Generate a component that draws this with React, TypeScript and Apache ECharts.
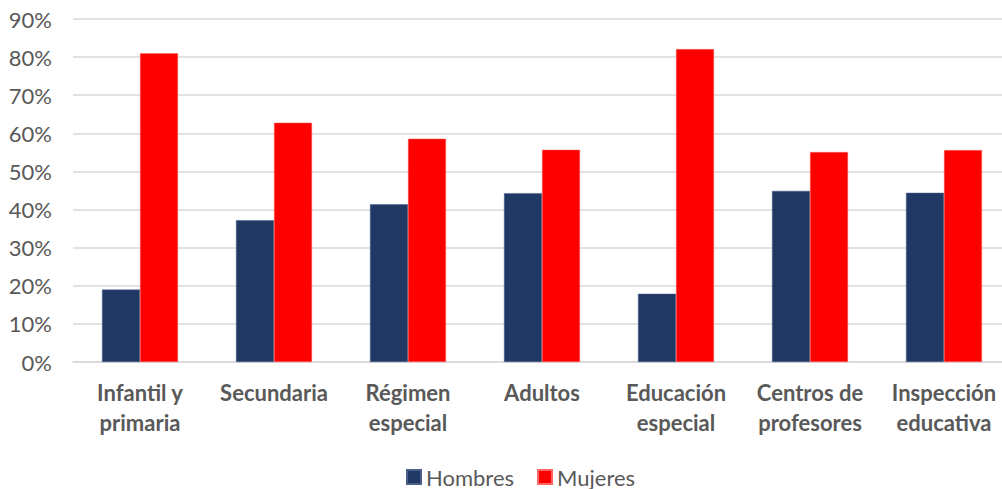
import React, { useEffect, useRef } from "react";
import * as echarts from "echarts";

const categories = [
  "Infantil y\nprimaria",
  "Secundaria",
  "Régimen\nespecial",
  "Adultos",
  "Educación\nespecial",
  "Centros de\nprofesores",
  "Inspección\neducativa",
];
const hombres = [19.0, 37.2, 41.4, 44.3, 17.9, 44.9, 44.4];
const mujeres = [81.0, 62.8, 58.6, 55.7, 82.1, 55.1, 55.6];
const seriesNames = ["Hombres", "Mujeres"];
const yTicks = { min: 0, max: 90, interval: 10 };

export default function App() {
  const ref = useRef<HTMLDivElement>(null);
  useEffect(() => {
    if (!ref.current) return;
    const chart = echarts.init(ref.current, null, { renderer: "svg" });
    const font = "Lato, 'Open Sans', sans-serif";
    chart.setOption({
      animation: false,
      textStyle: { fontFamily: font },
      grid: {
        left: 73,
        width: 938,
        top: 19,
        bottom: 127,
        containLabel: false,
        outerBoundsMode: "none",
      },
      legend: {
        top: 461,
        left: 401,
        padding: 5,
        itemWidth: 14,
        itemHeight: 14,
        itemGap: 23,
        icon: "rect",
        textStyle: { fontSize: 22, color: "#595959", fontFamily: font },
        data: seriesNames,
      },
      xAxis: {
        type: "category",
        data: categories,
        axisLine: { lineStyle: { color: "#D9D9D9", width: 1.5 } },
        axisTick: { show: false },
        axisLabel: {
          color: "#595959",
          fontSize: 22,
          fontWeight: "bold",
          lineHeight: 30,
          margin: 15,
          interval: 0,
          fontFamily: font,
        },
      },
      yAxis: {
        type: "value",
        min: yTicks.min,
        max: yTicks.max,
        interval: yTicks.interval,
        axisLine: { show: false },
        axisTick: { show: false },
        splitLine: { lineStyle: { color: "#D9D9D9", width: 1.5 } },
        axisLabel: {
          color: "#595959",
          fontSize: 22,
          margin: 21,
          formatter: "{value}%",
          fontFamily: font,
        },
      },
      series: [
        {
          name: seriesNames[0],
          type: "bar",
          data: hombres,
          barWidth: 38,
          barGap: "0%",
          itemStyle: { color: "#203864", borderColor: "#4A5F8A", borderWidth: 0.5 },
        },
        {
          name: seriesNames[1],
          type: "bar",
          data: mujeres,
          barWidth: 38,
          barGap: "0%",
          itemStyle: { color: "#FF0000", borderColor: "#FF6666", borderWidth: 0.5 },
        },
      ],
    });
    return () => chart.dispose();
  }, []);
  return (
    <div
      ref={ref}
      style={{ position: "fixed", left: 0, top: 0, width: 1002, height: 489, background: "#fff" }}
    />
  );
}
